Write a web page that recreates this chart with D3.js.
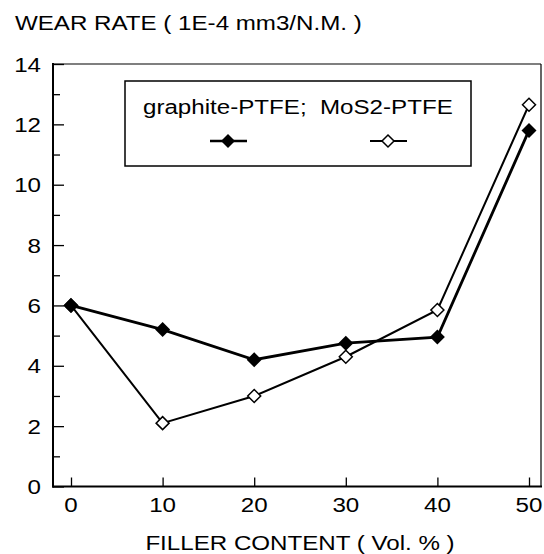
<!DOCTYPE html>
<html>
<head>
<meta charset="utf-8">
<script src="https://cdn.jsdelivr.net/npm/d3@7"></script>
<style>
  body { margin: 0; background: #fff; }
  text { font-family: "Liberation Sans", Arial, sans-serif; fill: #000; }
</style>
</head>
<body>
<svg id="chart" width="544" height="554"></svg>
<script>
// data
var fillerContent = [0, 10, 20, 30, 40, 50];
var graphitePTFE = [6.0, 5.2, 4.2, 4.75, 4.95, 11.8];
var mos2PTFE = [6.0, 2.1, 3.0, 4.3, 5.85, 12.65];
var xTicks = [0, 10, 20, 30, 40, 50];
var yTicks = [0, 2, 4, 6, 8, 10, 12, 14];
var yMinorTicks = [1, 3, 5, 7, 9, 11, 13];

var svg = d3.select("#chart");

var plotLeft = 53, plotRight = 541, plotTop = 64, plotBottom = 486.5;
var stretch = 1.15; // the scanned lettering is a bit wider than Arial

var x = d3.scaleLinear().domain([0, 50]).range([71, 529]);
var y = d3.scaleLinear().domain([0, 14]).range([plotBottom, plotTop]);

// text helper: place at (tx, ty) with horizontal stretch
function label(tx, ty, str, size, anchor) {
    return svg.append("g")
        .attr("transform", "translate(" + tx + "," + ty + ") scale(" + stretch + ",1)")
        .append("text")
        .attr("text-anchor", anchor || "start")
        .attr("xml:space", "preserve")
        .style("font-size", size + "px")
        .text(str);
}

// frame (thin top/right, heavier left/bottom)
svg.append("line").attr("x1", plotLeft).attr("x2", plotRight).attr("y1", plotTop).attr("y2", plotTop)
    .attr("stroke", "#000").attr("stroke-width", 1.2);
svg.append("line").attr("x1", plotRight).attr("x2", plotRight).attr("y1", plotTop).attr("y2", plotBottom)
    .attr("stroke", "#000").attr("stroke-width", 1.2);

// y axis, ticks pointing inward
var yAxis = d3.axisRight(y).tickValues(yTicks).tickSize(11).tickFormat("");
var gy = svg.append("g").attr("transform", "translate(" + plotLeft + ",0)").call(yAxis);
gy.select(".domain").remove();
gy.selectAll("line").attr("stroke-width", 1.3);
var yMinor = d3.axisRight(y).tickValues(yMinorTicks).tickSize(7).tickFormat("");
var gym = svg.append("g").attr("transform", "translate(" + plotLeft + ",0)").call(yMinor);
gym.select(".domain").remove();
gym.selectAll("line").attr("stroke-width", 1.3);

yTicks.forEach(function(d) {
    label(41, y(d) + 7.5, d, 21, "end");
});

// x axis, ticks pointing up
var xAxis = d3.axisTop(x).tickValues(xTicks).tickSize(9).tickFormat("");
var gx = svg.append("g").attr("transform", "translate(0," + plotBottom + ")").call(xAxis);
gx.select(".domain").remove();
gx.selectAll("line").attr("stroke-width", 1.3);

xTicks.forEach(function(d) {
    label(x(d), 512, d, 21, "middle");
});

svg.append("line").attr("x1", plotLeft).attr("x2", plotLeft).attr("y1", plotTop - 1).attr("y2", plotBottom + 1)
    .attr("stroke", "#000").attr("stroke-width", 2);
svg.append("line").attr("x1", plotLeft - 1).attr("x2", plotRight + 1).attr("y1", plotBottom).attr("y2", plotBottom)
    .attr("stroke", "#000").attr("stroke-width", 2);

// titles
label(15, 30, "WEAR RATE ( 1E-4 mm3/N.M. )", 21);
label(300, 550, "FILLER CONTENT ( Vol. % )", 21, "middle");

// lines
var line = d3.line()
    .x(function(d, i) { return x(fillerContent[i]); })
    .y(function(d) { return y(d); });

svg.append("path").datum(mos2PTFE)
    .attr("d", line).attr("fill", "none").attr("stroke", "#000").attr("stroke-width", 2);
svg.append("path").datum(graphitePTFE)
    .attr("d", line).attr("fill", "none").attr("stroke", "#000").attr("stroke-width", 2.8);

function diamond(r) {
    return "M0," + (-r) + "L" + r + ",0L0," + r + "L" + (-r) + ",0Z";
}

svg.append("g").selectAll("path")
    .data(mos2PTFE)
    .enter()
    .append("path")
    .attr("transform", function(d, i) { return "translate(" + x(fillerContent[i]) + "," + y(d) + ")"; })
    .attr("d", diamond(6.5))
    .attr("fill", "#fff").attr("stroke", "#000").attr("stroke-width", 1.5);

svg.append("g").selectAll("path")
    .data(graphitePTFE)
    .enter()
    .append("path")
    .attr("transform", function(d, i) { return "translate(" + x(fillerContent[i]) + "," + y(d) + ")"; })
    .attr("d", diamond(7.5))
    .attr("fill", "#000");

// legend
svg.append("rect").attr("x", 125).attr("y", 81).attr("width", 346).attr("height", 85)
    .attr("fill", "#fff").attr("stroke", "#000").attr("stroke-width", 1.5);
label(143, 114, "graphite-PTFE;  MoS2-PTFE", 21);

svg.append("line").attr("x1", 210).attr("x2", 247).attr("y1", 141).attr("y2", 141)
    .attr("stroke", "#000").attr("stroke-width", 2.5);
svg.append("path").attr("transform", "translate(228,141)").attr("d", diamond(7)).attr("fill", "#000");

svg.append("line").attr("x1", 370).attr("x2", 407).attr("y1", 141).attr("y2", 141)
    .attr("stroke", "#000").attr("stroke-width", 2);
svg.append("path").attr("transform", "translate(388,141)").attr("d", diamond(6))
    .attr("fill", "#fff").attr("stroke", "#000").attr("stroke-width", 1.5);
</script>
</body>
</html>
